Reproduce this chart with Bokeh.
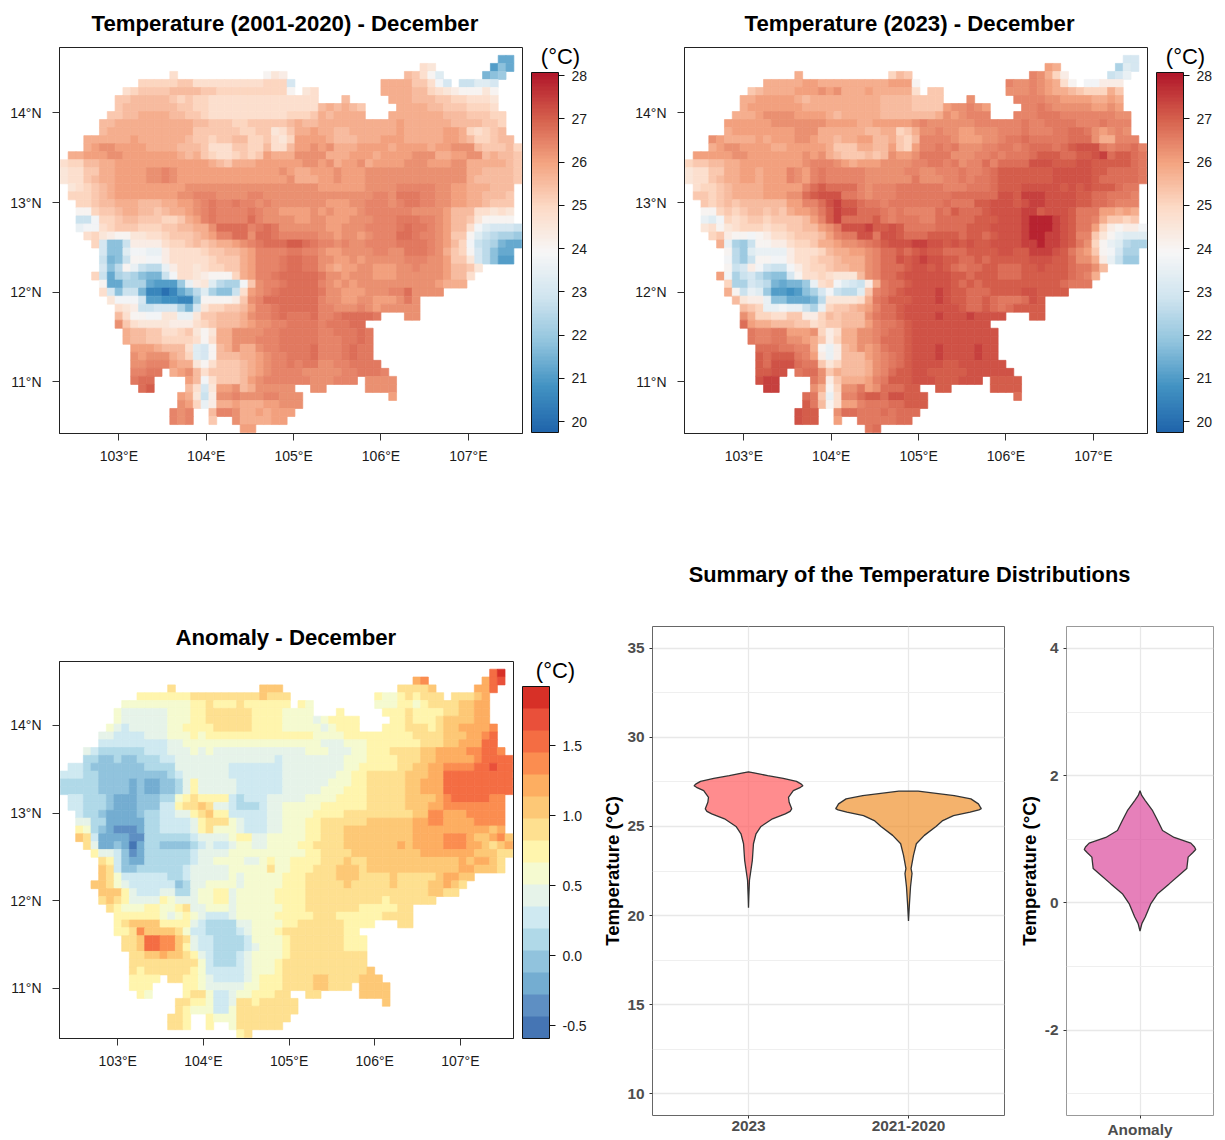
from bokeh.embed import file_html
from bokeh.resources import INLINE
from bokeh.layouts import column, row
from bokeh.models import (ColorBar, ColumnDataSource, FixedTicker, Label, LinearColorMapper,
                          PrintfTickFormatter, Range1d)
from bokeh.palettes import interp_palette
from bokeh.plotting import figure

# ---------------- data ----------------
# Each grid row: "first_col:cells first_col:cells". Letters are temperature classes (see temp_value).
TEMP_LETTERS = "abcdefghijklmnopqrstuvwxyzABCDEFGH"
TEMP_TOP_VALUES = {"A": 26.45, "B": 26.62, "C": 26.8, "D": 27.0, "E": 27.2, "F": 27.45, "G": 27.9, "H": 28.0}
TEMP_CLIM = [
    "56:ff",
    "46:ts 55:ehf",
    "14:t 26:qsr 44:wvtqn 54:ghi",
    "10:uuuuuvvtttttttttuuum 41:xxxxvvtpm 51:llnnm",
    "8:tuvvvvwwwwvvuuuuuuuuuq 31:st 41:xxxxwwutsrqqqsq",
    "7:vvwwwwwvuvuutttttttttttttt 36:w 42:xxxwwwvvuuttts",
    "7:vwwwwwwwvvuuttttttttttttttwxwxwv 43:xxxxwwvvvuuut",
    "6:vvwwxxxxwwvvuttttttttttuuuvxwxxxx 42:xxxxxxxwwwvvvuu",
    "5:wwxxxxxxxxxxwwvvvuuvvvvvwxww" "xxxxxxxxx" "xyxxxxxxww" "wwvvu",
    "5:wxxxxxxxxxxxvvvvvvuuvvstvxxy" "xxwwxxxxxxyxxxxxyyxutuvw",
    "3:xxxxxxyxxxxxxwvvuvvwwuuvtsuyyy" "yxwwwxxxyyyxxxxxyyxwuuvww",
    "3:xyzzyyyyxxxxwwwvtttvvuuwttwyyz" "yzxxxyyyyxyyyyxyyzzzwvvvwu",
    "1:xxyyyzzyyyyyyyxwxvuttuvuvyxxxzzz" "zxxxyyyxyyyyzzzxxyyzzwxwwv",
    "0:tuuwwxxyyyyyyyyyyyyxwvxxxyyyyyyzz" "yzxyyzxyyyyzzzyyyzzxxxxxwv",
    "0:sttvvxxyyyyzzAzyyy" "yyyyyyyyyy" "zyxxy" "yyzyyyzzzzzzzzzzzzzxxwwwwv",
    "0:sttvwxxyyyyzzAzyy" "yyyyyyyyyyyy" "zxxx" "yyzyyyzzzzzzzzzzzzzxwwwwwv",
    "1:stuvwxyyyyyyyyyzzzzzzzzzzzzzzzzz" "yyyyyyzzzzAAAAAzzyyxxxwww",
    "1:uuuvwxyyyyyyyyzzAAAzzzzAAzzzzzzz" "zzzzzzzAAzBBBAAzzyyxxwwwv",
    "2:uuvwwxxxwwwxxyyzABAABAAzAzzzzzz" "zyyyzzAAAzABBAAzzyyxxwvvv",
    "2:qquvvwxxwwvwxxyzABAAAABAzzyyyyz" "yzyyyzAAAAAAzzzzywwwttsts",
    "2:llpuuvwwvvvuuvxyABAAAACAzzzzyyz" "zyyyzzzAAABBBAAzywwvsqqqq",
    "2:opptuvvvuuuvvwwxxzCCCCABCBzzzzz" "zyyzzzAAAABCBBAzywwtpnmmml",
    "3:tusrqqssttuvvvwxyAACCzCCBAAAAA" "zzyzzyzAAACCBAAzyvvqnlkjji",
    "4:umhhlrrrrtuuvwvwxxyzABCCCDDCB" "AAzAzzAAAABBBBAzywuplkjgff",
    "5:mhhnppoorttttuvvwwxyAAAABBAA" "zyyzzzzAAzzBBBAzxvuqmkhff",
    "5:lghlqqpprtttttuvvvxyAAABCCBB" "zzyyzyzzzzzAAAzzyvvsmkhee",
    "5:mhkqolkkorttstuuvvxyAAABCCBB" "zyxyyzzyyyzzAzzzywwvs",
    "4:ulfjkjhgglpttsrqqquxyAABCCCCC" "Bzzyzzzyyyzzzzzzywwt",
    "5:qffjjjfeeeiorsnkjjpvzAABCCCC" "Azyzyzzzzzzzzzzyxxx",
    "5:tmhllgccacfhknjhhltyzABCCCCC" "BzzyyyzzzAACzzzz",
    "6:spppmeeddcciqqqqrvzACCCCCCC" "AzzyyzzyyyzBz",
    "7:tsrllmmmjgmsuuvvwyAABCCCCC" "AAzzzAzyzzzzz",
    "7:wtqqppssoosvvwwwxzAABCBBBC" "AABCCCCB 44:zz",
    "7:zvtssssrrrtuvwwwxyzzAABBBB" "ABBBCC",
    "8:xwwvvttuvsqsxxzzzzAABBBBB" "AABBBCB",
    "8:xwwvvuuuutqtxxzzzAAABBBBB" "AAABBCB",
    "9:yyyxwwwtnmqwxzxxzAABBBBC" "AAABCBB",
    "9:zyzzzxwunmqwwwxxyzAABBBC" "AAABCBB",
    "9:zzAAAyxxsqtvvvwxyzAABABB" "zzAABBBB",
    "9:AABB 14:xyzwtvvvvwxyzAAAAzz" "zzzAABBBA",
    "9:BCC 16:ywptvvvwyzAAAAAAz" "zzAAA 39:zzzz",
    "10:CD 16:wtmsyyzwxzzzzz 32:zz 39:zzzz",
    "15:yxslrzzAzzzAAzzz 42:y",
    "15:zyuorxxyxxxyyzzz",
    "14:AzA 19:wAAzxxyxyyy",
    "14:AzA 19:v 22:zxxxxyy",
    "23:yy",
]
TEMP_2023 = [
    "56:mm",
    "46:yx 55:jnm",
    "14:x 26:uwv 44:Azxur 54:lmo",
    "10:xxxxxyyxxxxxxxxxyyyq 41:AzzAzyxtq 51:pprrr",
    "8:vwxxxxyyyzyzxxxyxxxxxt 31:vv 41:zzzAzyxxwvuuuxv",
    "7:xxyyyyyxw" "xxxxxxxxx" "wwww" "vvvv 36:z 42:AAAAzzyyyyxxyx",
    "7:xyyyyyyyxxxxxxxxxxwwwwvvvvyzzAzy 43:AABAzzzzzyyzy",
    "6:xxxyzzzzyyyyxw" "xxxxx" "wwww" "www" "x" "zyz" "AAA 42:AAABBBAAAAAAAzz",
    "5:yy" "yyyy" "zzz" "zzz" "z" "y" "yyy" "xx" "yyyyy" "zAzz" "zzzz" "AAAAA" "ABAA" "BBBB" "AAA" "BA" "A" "A",
    "5:x" "yyyyyyyy" "zzz" "xxxxxx" "ww" "xx" "uv" "x" "zzA" "zzyyzzzAAABAAABBCCB" "zyzAz",
    "3:zy" "xxxx" "yx" "yyy" "zz" "y" "xx" "w" "xx" "yy" "ww" "xvuw" "AAA" "Azyyyzz" "ABB" "CBBBBB" "CCC" "zxx" "AAA",
    "3:xyzzyyyyxxyyyyyxvvvxxwwyvuyAAB" "ABzzzAABBABCCCBCDEEEBABBCA",
    "1:yyyyyzz" "yyyyyyy" "zyzxwvv" "vwvwzyy" "zBBB" "BzzzAABABBBCDDDCCDDEFCDDCB",
    "0:uvvww" "xx" "yyyyyyy" "yz" "AAAzyx" "yyyzzzz" "AABB" "ABzAACACCCCEEEDDDEEDDDDDCB",
    "0:sttvvxxyyxyyyAzyAB" "AAAAA" "zzzzz" "AAzzA" "AABAABCDDDDDDDEEEEEDDCCCCB",
    "0:sttvwxxyyxyyyAzyAB" "AAAAA" "zzzzzz" "Bzzz" "AABABBC" "DDDDDDD" "EEEEE" "DCCCCC" "B",
    "1:tuuvwx" "xxx" "yyyyy" "A" "C" "D" "CCCC" "Az" "AAA" "BBBBB" "B" "AAABBBC" "DDD" "EEEEE" "DEDE" "DDDC" "BB",
    "1:vvuvwx" "xxx" "yyy" "zz" "CDEEE" "BB" "Az" "AAA" "BB" "BBBB" "B" "CCCCCC" "EEDFFFEE" "EE" "DD" "CC" "BBB" "A",
    "2:vuvwvwwwwww" "yy" "AA" "CEF" "DD" "CBBAB" "BB" "BBBB" "CBBB" "DDEEEDEFF" "EE" "EE" "DDC" "CBAAA",
    "2:qquvuvwwvwvxyyzBDFEECCCBABAAAAC" "BDCCCDEEEEFFDEEEDBBByyxyx",
    "2:onputuvvuvvvvwyADFCCCCDBABBBAAC" "CCCCDDDEEEFGGGFEDBBAxvvuv",
    "2:stqstuuutuuvvwwyzBEEEFDDEDBBBBC" "CCCDDDEEEEFGGGFEDBByurqrrp",
    "3:uvrqqpqrttuvvvwyABBEEBEEDCCCDD" "DDCDDCDEEEFGGFFEDAAvsqonnn",
    "4:xojilqqrrtuuvxxyzzABCDEEEFFEE" "DEDEDDEEEEFFGFFEDBzuqonkjj",
    "5:qkinoooortttuwxxyyzACCDCDEDD" "CCCDDDDEEDDFFFEDBzyvqpmjj",
    "5:pkilqqpprttuvvwxxxzACCEDEFEE" "DDCCDCDDDDDEEEDDCzzxrolii",
    "5:qlmrpmllprtuuvwwxxzACCCDEEDE" "DCBCCDDCCCDDEDDDCBBzw",
    "4:ypjlmkihhmqttutssswzACCDEEEEE" "EDDCDDDCCCDDDDDDCBAx",
    "5:ujjmlkgfggiotupnmlrxBCCDEEEE" "EDCDCDDDDDDDDDDCBBB",
    "5:xqlonieedehjmplkknvABCDEEEEF" "EDDCCCDDDDEEDDDD",
    "6:wsrrohhfffgksssstxBCDDDEEEF" "EDDCCDCBBBCED",
    "7:wvuoopooljouvvwxyACCDEEEEE" "EEDCCDCBCDDDD",
    "7:zxuuttvvrruwvwwwzBCCDEEEEF" "EEEFEEEE 44:DD",
    "7:CyxxwwwvvtuvvwwwyABBCDEEEE" "EEEEEE",
    "8:BAABByyyzurtxxzzABCCDEEEE" "EEEEEEE",
    "8:BAABBzzyxvruxxzzACCCDEEEE" "EEEEEEE",
    "9:CCCBBAAxqorwxzyzBCCDEEEF" "EEEEFEE",
    "9:DCDDDBAyrorwwwyzABCDEEEF" "EEEEFEE",
    "9:DCEEECBBvsuwwwxzABCDEEEE" "DDEEEEEE",
    "9:DDEE 14:BCCzvxwwwxzACDDEEDD" "DDDEEEEEE",
    "9:EFF 16:BzrvxxxyABDDDEEED" "DDEEE 39:DDDD",
    "10:FF 16:zxquzzByzCCCDD 32:DD 39:DDDD",
    "15:CBvotAACDDCEEDDD 42:C",
    "15:DBwqtyyABBBCCDDD",
    "14:EDD 19:zCCBBBCBCCC",
    "14:EDD 19:y 22:BBBBBCC",
    "23:BC",
]
# Anomaly: hex digit = colour class of the legend (0 lowest ... f highest)
ANOMALY = [
    "56:df",
    "46:bc 55:bde",
    "14:9 26:aaa 44:9999a 54:bbd",
    "10:8888888" "999999999" "a" "999 41:877898999 51:999ab",
    "8:777777777" "88" "9" "888" "9" "888888 31:87 41:77788789999aabb",
    "7:7" "666666" "777" "88" "999999" "8888" "7777 36:8 42:8889888899aabb",
    "7:7" "666666" "777" "88" "999999" "8888" "7777" "6" "7" "8888 43:8898889aaaabb",
    "6:7" "6" "5" "66666" "77" "8888" "99999" "8888" "77777" "6" "7" "888 42:88899989aabbbbc",
    "5:66" "5555" "666" "777" "8" "7" "88888888888888" "7777" "888888888" "9999" "aaa" "bb" "c" "d",
    "5:555555555" "66" "77777777777777777" "7" "666" "777" "8888888" "999" "aa" "bbb" "dd",
    "3:6" "5" "444444" "555" "666" "7" "6" "7" "666666666666" "7" "77666778889999aabbbbccddc",
    "3:44" "33" "4" "33" "444" "55" "6666666666666" "5" "6666" "6666" "777" "8888" "999" "aa" "bbbbb" "c" "dddd",
    "1:55" "4" "3333333" "4444" "6666666" "5555555" "6666" "6666" "77" "88888" "99" "aa" "bb" "cccc" "dd" "e" "dd",
    "0:555" "44" "333333333" "4" "5" "666666" "5555555" "6666" "666" "77" "88" "99999" "aaa" "bb" "ddddddddd",
    "0:44444" "3333" "2" "3" "22" "33" "4" "6" "8" "66666" "555555" "6666" "66" "777" "88" "99999" "aa" "bbb" "ddddddddd",
    "0:44444" "3333" "2" "3" "22" "33" "4" "6" "8" "66666" "555555" "6666" "6" "777" "888" "99999" "aa" "bbb" "ddddddddd",
    "1:55444322233344789888854555666667" "777" "8888" "99999" "aaaa" "b" "c" "ddddd" "cc",
    "1:55444" "3" "222" "333" "55" "8" "99" "a" "9" "66" "5" "444" "5" "66" "7777" "7" "888888" "99999" "aaa" "bb" "cccccccc",
    "2:5" "44" "3" "2222" "3" "44" "55" "66" "8" "9" "a" "88" "55555" "66" "7777" "8888" "999999999" "aa" "cc" "bbb" "ccccc",
    "2:66" "44" "22222" "44" "5555" "6" "8" "999" "7" "6" "555" "66" "777" "8" "8" "999999" "aaaaaa" "bb" "cc" "bbbb" "cccc",
    "2:8" "7" "4" "3" "2" "111" "2" "44" "5555" "6" "8" "9" "777" "6" "555" "66" "777" "8" "8" "999" "aaaaaaaaa" "bbbbbbbbbb" "a" "b",
    "2:a" "9" "5" "2222" "11" "444444" "5" "6666" "7" "88" "66" "77777" "8" "8" "999" "aaaaaaaaa" "bbbb" "ccc" "b" "aa" "b" "c" "a",
    "3:9" "6" "22" "3" "2" "0" "2" "44" "3333" "4" "5" "6" "55" "6" "77" "66" "7777" "88" "9999" "aaaaaaa" "b" "a" "bbbb" "ccc" "bb" "a" "9" "a" "b",
    "4:8" "66" "5" "3" "1" "2" "444444" "5" "6666" "7777777777" "8" "8" "9999" "aaaaaaaaa" "bbbbbbb" "aaa" "99",
    "5:9" "8" "5" "3" "22" "444444" "5" "66" "7777" "66" "7" "8" "77" "888" "8" "999" "a" "99" "aaaaaaaaaaaa" "b" "a" "bb" "a" "9",
    "5:a" "9" "5" "33" "444444" "5" "66666" "77777" "9" "77" "888" "999" "aaa" "9" "aaaaaaaaaaaa" "bb" "aaa" "9",
    "5:a9" "7" "555555" "44" "5" "66666" "7" "6" "77777" "888" "9" "999" "aaa" "9999" "a" "99999" "a" "bb" "aa",
    "4:aa" "9" "7" "6" "555555" "3" "4" "66" "7777" "6" "77777" "888" "9" "9999" "a" "99999" "a" "9999" "aa" "b" "a" "9",
    "5:aaa" "8" "6" "555" "66" "44" "6" "77" "88" "6" "77777" "8888" "9" "999999999999999" "aa" "99",
    "5:9a98" "6666" "8" "7" "666" "77" "88" "6" "77777" "8888" "9" "999999999" "8" "999999",
    "6:9" "8" "777" "88" "77" "8" "9" "66" "777" "6" "777777" "888" "9" "999999" "88888" "99",
    "7:888888" "7" "6" "7" "8" "7" "6" "555" "6" "77777" "88888" "999" "888888" "9999",
    "7:8" "9" "aaaa" "8888" "6" "5" "4444" "66" "7777" "88" "99" "9999" "8888 44:99",
    "7:88" "9" "c" "aaaa" "9" "7" "55" "4444" "5" "6" "777" "8" "9999" "999988",
    "8:99" "a" "dd" "cc" "a" "9" "6" "55" "4444" "5" "7777" "8" "999" "9999888",
    "8:99" "a" "dd" "cc" "a" "8" "6" "55" "4444" "5" "6" "777" "8" "999" "9999888",
    "9:99" "aa" "b" "aa" "9" "8" "6" "5" "444" "5" "6" "7777" "8" "999" "9999999",
    "9:999999999" "7" "5" "444" "5" "6" "777" "8" "9999" "9999999",
    "9:9" "8" "999999" "8" "7" "55555" "6" "777" "8" "9999" "9999999a",
    "9:8888 14:99" "88" "7" "6" "5555" "6" "7" "888" "9999" "aa9999aaa",
    "9:888 16:88" "7" "66666" "77" "888" "9999" "aa999 39:aaaa",
    "10:87 16:89975567788899 32:99 39:aaaa",
    "15:9988755699899999 42:a",
    "15:98777557" "99999999",
    "14:998 19:8777" "9999999",
    "14:998 19:8 22:7999999",
    "23:89",
]

LON_TICKS = [103, 104, 105, 106, 107]
LAT_TICKS = [11, 12, 13, 14]
TEMP_TICKS = [20, 21, 22, 23, 24, 25, 26, 27, 28]
ANOM_TICKS = [-0.5, 0.0, 0.5, 1.0, 1.5]
ANOM_COLORS = ["#4575B4", "#5E8FC3", "#74ADD1", "#91C3DD", "#B0D9E8", "#CFE9F1", "#E6F3E9", "#F5FAD0",
               "#FFF5AD", "#FEE090", "#FDC876", "#FDAE61", "#FB8D50", "#F46D43", "#E9503A", "#D73027"]
TEMP_COLORS = ["#2166AC", "#4393C3", "#92C5DE", "#D1E5F0", "#F7F7F7", "#FDDBC7", "#F4A582", "#D6604D", "#B2182B"]

VIOLIN_CATS = ["2023", "2021-2020"]
V2023_TEMP = [28.07, 28.0, 27.85, 27.7, 27.53, 27.38, 27.29, 27.2, 27.01, 26.64, 26.36, 25.99, 25.85, 25.71, 25.43, 25.0, 24.59, 24.03, 23.1, 21.98, 21.05, 20.44]
V2023_HALF = [0, .042, .12, .217, .30, .33, .34, .325, .28, .25, .254, .27, .26, .23, .15, .078, .047, .031, .024, .006, .002, 0]
VCLIM_TEMP = [26.99, 26.98, 26.73, 26.55, 26.27, 26.1, 26.0, 25.93, 25.8, 25.61, 25.33, 25.0, 24.5, 24.03, 23.38, 22.63, 22.36, 21.6, 20.68, 19.69]
VCLIM_HALF = [0, .06, .286, .39, .437, .448, .455, .44, .385, .281, .214, .172, .099, .049, .031, .016, .022, .0125, .006, 0]
VANOM_VAL = [1.765, 1.69, 1.61, 1.45, 1.295, 1.14, 1.03, .94, .88, .84, .79, .72, .54, .46, .30, .146, -.01, -.22, -.32, -.44]
VANOM_HALF = [0, .014, .043, .103, .144, .184, .279, .415, .445, .455, .43, .393, .382, .333, .238, .144, .089, .043, .016, 0]

# ---------------- helpers ----------------
FONT = "Liberation Sans"
X_RANGE = (102.32, 107.62)
Y_RANGE = (10.425, 14.73)
LON0, LAT0, CELL = 102.33, 14.642, 0.0895
TEMP_LOW, TEMP_HIGH = 19.75, 28.07
ANOM_LOW, ANOM_HIGH = -0.59, 1.922


def cells(rows, decode):
    lon, lat, val = [], [], []
    for r, text in enumerate(rows):
        for seg in text.split():
            start, chars = seg.split(":")
            for k, ch in enumerate(chars):
                lon.append(LON0 + (int(start) + k + 0.5) * CELL)
                lat.append(LAT0 - (r + 0.5) * CELL)
                val.append(decode(ch))
    return dict(lon=lon, lat=lat, value=val)


def temp_value(ch):
    return TEMP_TOP_VALUES.get(ch, 20 + 0.25 * TEMP_LETTERS.index(ch))


def anom_value(ch):
    step = (ANOM_HIGH - ANOM_LOW) / 16
    return ANOM_LOW + (int(ch, 16) + 0.5) * step


def map_panel(title, data, mapper, ticks, bar_x, bar_y, bar_h, width, height, left, right, top, bottom, title_x,
              unit_x, unit_y, tick_fmt=None):
    p = figure(width=width, height=height, x_range=Range1d(*X_RANGE), y_range=Range1d(*Y_RANGE),
               toolbar_location=None, output_backend="svg",
               min_border_left=left, min_border_right=right, min_border_top=top, min_border_bottom=bottom)
    p.title.text = title
    p.title.align = "left"
    p.title.offset = title_x
    p.title.vertical_align = "top"
    p.title.standoff = 20
    p.title.text_font = FONT
    p.title.text_font_size = "22.2px"
    p.title.text_font_style = "bold"
    p.title.text_color = "#000000"
    p.grid.visible = False
    p.outline_line_color = "#222222"
    p.outline_line_width = 1
    src = ColumnDataSource(data)
    fill = {"field": "value", "transform": mapper}
    p.rect(x="lon", y="lat", width=CELL, height=CELL, source=src, fill_color=fill, line_color=fill, line_width=0.7)
    p.xaxis.ticker = FixedTicker(ticks=LON_TICKS)
    p.xaxis.major_label_overrides = {t: f"{t}°E" for t in LON_TICKS}
    p.yaxis.ticker = FixedTicker(ticks=LAT_TICKS)
    p.yaxis.major_label_overrides = {t: f"{t}°N" for t in LAT_TICKS}
    for ax in (p.xaxis[0], p.yaxis[0]):
        ax.major_label_text_font = FONT
        ax.major_label_text_font_size = "14px"
        ax.major_label_text_color = "#1a1a1a"
        ax.major_tick_out = 7
        ax.major_tick_in = 0
        ax.minor_tick_line_color = None
        ax.axis_line_color = "#222222"
        ax.major_tick_line_color = "#333333"
    p.xaxis[0].major_label_standoff = 7
    p.yaxis[0].major_label_standoff = 11
    p.yaxis[0].major_label_orientation = "horizontal"
    bar = ColorBar(color_mapper=mapper, ticker=FixedTicker(ticks=ticks), location=(bar_x, bar_y), width=27, height=bar_h,
                   margin=0, padding=0, bar_line_color="#111111", major_tick_line_color="#111111",
                   major_tick_in=0, major_tick_out=6, label_standoff=7, major_label_text_font=FONT,
                   major_label_text_font_size="14px", major_label_text_color="#1a1a1a")
    if tick_fmt:
        bar.formatter = PrintfTickFormatter(format=tick_fmt)
    p.add_layout(bar, "center")
    # a Label in a side panel is not clipped to the plot frame
    p.add_layout(Label(x=unit_x, y=unit_y, x_units="canvas", y_units="canvas", text="(°C)", text_align="center",
                       text_baseline="middle", text_font=FONT, text_font_size="22px", text_color="#000000"), "right")
    return p


def violin_panel(width, height, left, right, top, bottom, x_range, y_range, ticks, minor, centers, labels,
                 border, standoff, shapes):
    p = figure(width=width, height=height, x_range=Range1d(*x_range), y_range=Range1d(*y_range),
               toolbar_location=None, output_backend="svg",
               min_border_left=left, min_border_right=right, min_border_top=top, min_border_bottom=bottom)
    p.outline_line_color = border
    p.outline_line_width = 1
    p.xaxis.ticker = FixedTicker(ticks=centers)
    p.xaxis.major_label_overrides = dict(zip(centers, labels))
    p.yaxis.ticker = FixedTicker(ticks=ticks, minor_ticks=minor)
    p.yaxis.major_label_overrides = {t: str(t) for t in ticks}
    p.yaxis.axis_label = "Temperature (°C)"
    p.yaxis.axis_label_text_font = FONT
    p.yaxis.axis_label_text_font_size = "18.6px"
    p.yaxis.axis_label_text_font_style = "bold"
    p.yaxis.axis_label_text_color = "#000000"
    p.yaxis.axis_label_standoff = standoff
    for ax in (p.xaxis[0], p.yaxis[0]):
        ax.major_label_text_font = FONT
        ax.major_label_text_font_size = "15.4px"
        ax.major_label_text_font_style = "bold"
        ax.major_label_text_color = "#4d4d4d"
        ax.major_tick_out = 3
        ax.major_tick_in = 0
        ax.minor_tick_line_color = None
        ax.axis_line_color = None
        ax.major_tick_line_color = "#333333"
    p.xaxis[0].major_label_standoff = 2
    p.yaxis[0].major_label_standoff = 4
    p.xgrid.grid_line_color = "#e8e8e8"
    p.ygrid.grid_line_color = "#e8e8e8"
    p.xgrid.grid_line_width = 1.3
    p.ygrid.grid_line_width = 1.3
    p.ygrid.minor_grid_line_color = "#efefef"
    for center, vals, half, color in shapes:
        xs = [center - h for h in half] + [center + h for h in reversed(half)]
        ys = list(vals) + list(reversed(vals))
        p.patch(xs, ys, fill_color=color, fill_alpha=0.7, line_color="#333333", line_width=1.3)
    return p


# ---------------- panels ----------------
temp_mapper = LinearColorMapper(palette=interp_palette(tuple(TEMP_COLORS), 100), low=TEMP_LOW, high=TEMP_HIGH)
anom_mapper = LinearColorMapper(palette=ANOM_COLORS, low=ANOM_LOW, high=ANOM_HIGH)

f1 = map_panel("Temperature (2001-2020) - December", cells(TEMP_CLIM, temp_value), temp_mapper, TEMP_TICKS,
               472, 1, 360, 625, 500, 59, 103, 47, 67, 32, 560, 56)
f2 = map_panel("Temperature (2023) - December", cells(TEMP_2023, temp_value), temp_mapper, TEMP_TICKS,
               472, 1, 360, 592, 500, 59, 70, 47, 67, 60, 560, 56)
f3 = map_panel("Anomaly - December", cells(ANOMALY, anom_value), anom_mapper, ANOM_TICKS,
               463, 0, 352, 590, 640, 59, 77, 161, 102, 116, 555, 170, tick_fmt="%.1f")

summary = figure(width=627, height=100, x_range=Range1d(0, 627), y_range=Range1d(0, 100),
                 toolbar_location=None, output_backend="svg",
                 min_border_left=0, min_border_right=0, min_border_top=0, min_border_bottom=0)
summary.axis.visible = False
summary.grid.visible = False
summary.outline_line_color = None
summary.add_layout(Label(x=319, y=26, text="Summary of the Temperature Distributions", text_align="center",
                         text_baseline="middle", text_font=FONT, text_font_size="21.8px", text_font_style="bold",
                         text_color="#000000"))

f4 = violin_panel(425, 540, 62, 11, 26, 24, (0.4, 2.6), (8.77, 36.23), [10, 15, 20, 25, 30, 35],
                  [12.5, 17.5, 22.5, 27.5, 32.5], [1, 2], VIOLIN_CATS, "#666666", 1,
                  [(1, V2023_TEMP, V2023_HALF, "#FF5B5E"), (2, VCLIM_TEMP, VCLIM_HALF, "#EF912D")])
f5 = violin_panel(202, 540, 50, 4, 26, 24, (0.4, 1.6), (-3.34, 4.345), [-2, 0, 2, 4],
                  [-3, -1, 1, 3], [1], ["Anomaly"], "#999999", 2,
                  [(1, VANOM_VAL, VANOM_HALF, "#DB4A9C")])

page = column(row(f1, f2), row(f3, column(summary, row(f4, f5))))
open("out.html", "w").write(file_html(page, INLINE))
